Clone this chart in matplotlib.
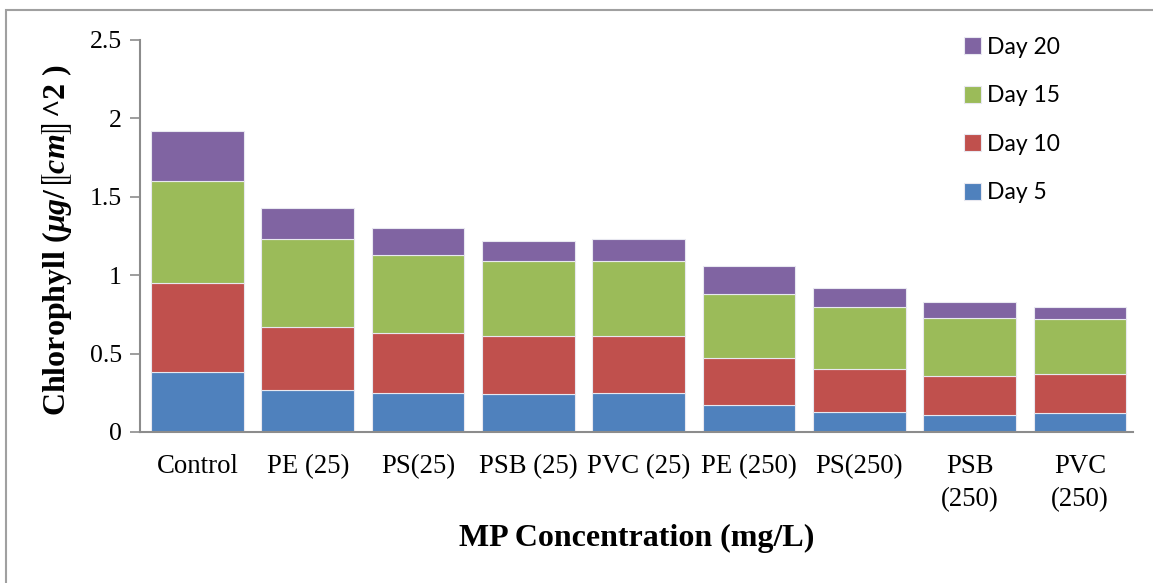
import matplotlib
matplotlib.use("Agg")
import matplotlib.pyplot as plt
from matplotlib.patches import Rectangle
import numpy as np

categories = ["Control", "PE (25)", "PS(25)", "PSB (25)", "PVC (25)",
              "PE (250)", "PS(250)", "PSB\n(250)", "PVC\n(250)"]
day5 = [0.38, 0.27, 0.25, 0.24, 0.25, 0.17, 0.13, 0.11, 0.12]
day10 = [0.57, 0.40, 0.38, 0.37, 0.36, 0.30, 0.27, 0.25, 0.25]
day15 = [0.65, 0.56, 0.50, 0.48, 0.48, 0.41, 0.40, 0.37, 0.35]
day20 = [0.32, 0.20, 0.17, 0.13, 0.14, 0.18, 0.12, 0.10, 0.08]
series_names = ["Day 5", "Day 10", "Day 15", "Day 20"]
colors = ["#4F81BD", "#C0504D", "#9BBB59", "#8064A2"]

plt.rcParams["mathtext.fontset"] = "custom"
plt.rcParams["mathtext.it"] = "Liberation Serif:italic:bold"
plt.rcParams["mathtext.rm"] = "Liberation Serif:bold"
plt.rcParams["mathtext.bf"] = "Liberation Serif:bold"
plt.rcParams["mathtext.fallback"] = "stix"

fig = plt.figure(figsize=(11.53, 5.83), dpi=100)
ax = fig.add_axes([140 / 1153, 1 - 432 / 583, 993 / 1153, 392 / 583])

x = np.arange(len(categories))
bottom = np.zeros(len(categories))
bars = []
for vals, name, c in zip([day5, day10, day15, day20], series_names, colors):
    b = ax.bar(x, vals, width=0.84, bottom=bottom, color=c, label=name,
               edgecolor="#e8e8f0", linewidth=0.8)
    bars.append(b)
    bottom = bottom + np.array(vals)

ax.set_xlim(-0.52, len(categories) - 0.52)
ax.set_ylim(0, 2.5)
ax.set_yticks([0, 0.5, 1, 1.5, 2, 2.5])
ax.set_yticklabels(["0", "0.5", "1", "1.5", "2", "2.5"])
ax.set_xticks(x)
ax.set_xticklabels(categories, linespacing=1.4)

for s in ["top", "right"]:
    ax.spines[s].set_visible(False)
for s in ["left", "bottom"]:
    ax.spines[s].set_color("#8c8c8c")
    ax.spines[s].set_linewidth(1.5)

ax.tick_params(axis="y", length=7, width=1.2, color="#8c8c8c", pad=6,
               labelsize=18.5)
ax.tick_params(axis="x", length=0, pad=16, labelsize=19.3)
for lab in ax.get_xticklabels() + ax.get_yticklabels():
    lab.set_fontfamily("Liberation Serif")

ax.set_xlabel("MP Concentration (mg/L)", fontfamily="Liberation Serif",
              fontweight="bold", fontsize=23)
ax.xaxis.set_label_coords(0.5, -0.235)
ax.set_ylabel(r"Chlorophyll ($\mathit{\mu g}$/$⟦$$\mathit{cm}$$⟧$^2 )",
              fontfamily="Liberation Serif",
              fontweight="bold", fontsize=23)
ax.yaxis.set_label_coords(-0.066, 0.49)

handles = [bars[3], bars[2], bars[1], bars[0]]
labels = ["Day 20", "Day 15", "Day 10", "Day 5"]
leg = ax.legend(handles, labels, loc="upper left",
                bbox_to_anchor=(943 / 1153, 1 - 16 / 583),
                bbox_transform=fig.transFigure, frameon=False,
                prop={"family": "Lato", "size": 16.5},
                handlelength=0.75, handleheight=0.75, handletextpad=0.25,
                labelspacing=1.2)

fig.patches.append(Rectangle((6 / 1153, -0.1), 1.2, 1.1 - 10 / 583,
                             transform=fig.transFigure, fill=False,
                             edgecolor="#a0a0a0", linewidth=1.5))

fig.savefig("out.png", dpi=100)
